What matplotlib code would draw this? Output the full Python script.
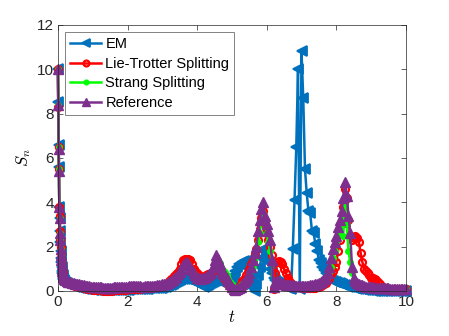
import numpy as np
import matplotlib
matplotlib.use('Agg')
import matplotlib.pyplot as plt

# sampling times: fine steps for the initial drop, then every 0.05
t = np.round(np.concatenate([np.arange(0, 0.2, 0.01), np.arange(0.2, 10.001, 0.05)]), 3)

# S_n, one row per unit of time
s_em = [10.0, 8.5, 6.6, 5.6, 3.8, 3.3, 2.7, 2.2, 1.8, 1.5, 1.3, 1.1, 0.9, 0.8, 0.7, 0.6, 0.54, 0.48, 0.44, 0.42,
        0.4, 0.36, 0.32, 0.28, 0.25, 0.22, 0.2, 0.18, 0.15, 0.14, 0.12, 0.11, 0.1, 0.09, 0.08, 0.07,
        0.06, 0.06, 0.05, 0.05, 0.05, 0.04, 0.04, 0.04, 0.04, 0.04, 0.04, 0.04, 0.04, 0.04, 0.05, 0.05, 0.05, 0.05, 0.06, 0.06,
        0.06, 0.06, 0.07, 0.07, 0.07, 0.08, 0.08, 0.08, 0.09, 0.1, 0.1, 0.11, 0.11, 0.12, 0.12, 0.13, 0.13, 0.14, 0.14, 0.15,
        0.15, 0.17, 0.19, 0.22, 0.25, 0.28, 0.3, 0.35, 0.4, 0.45, 0.5, 0.53, 0.55, 0.55, 0.55, 0.52, 0.5, 0.47, 0.45, 0.4,
        0.35, 0.3, 0.25, 0.22, 0.2, 0.22, 0.25, 0.3, 0.35, 0.4, 0.45, 0.48, 0.5, 0.45, 0.4, 0.35, 0.3, 0.3, 0.35, 0.4,
        0.5, 0.7, 0.9, 1.1, 1.2, 1.2, 1.3, 1.35, 1.3, 1.4, 1.0, 0.5, 0.15, 0.0, 0.3, 0.7, 1.1, 1.5, 1.9, 1.8,
        1.6, 1.3, 1.0, 0.8, 0.6, 0.5, 0.4, 0.35, 0.3, 0.25, 0.22, 0.18, 0.15, 0.12, 0.1, 1.9, 4.1, 6.5, 10.0, 0.1,
        10.8, 8.7, 5.5, 4.4, 3.6, 3.5, 2.7, 2.6, 2.1, 1.8, 1.4, 1.25, 1.1, 0.95, 0.8, 0.7, 0.6, 0.52, 0.45, 0.42,
        0.4, 0.37, 0.34, 0.3, 0.27, 0.25, 0.22, 0.2, 0.18, 0.16, 0.14, 0.12, 0.11, 0.1, 0.08, 0.07, 0.06, 0.05, 0.04, 0.03,
        0.03, 0.02, 0.02, 0.02, 0.01, 0.01, 0.01, 0.01, 0.0, 0.0, 0.0, 0.0, 0.0, 0.0, 0.0, 0.0, 0.0, 0.0, 0.0, 0.0,
        0.0]

s_lt = [10.0, 8.3, 6.5, 5.5, 3.8, 3.4, 2.7, 2.3, 2.0, 1.7, 1.5, 1.2, 1.0, 0.9, 0.8, 0.7, 0.62, 0.56, 0.5, 0.47,
        0.45, 0.4, 0.36, 0.32, 0.3, 0.27, 0.24, 0.22, 0.2, 0.18, 0.16, 0.14, 0.12, 0.1, 0.08, 0.07,
        0.06, 0.05, 0.04, 0.04, 0.03, 0.03, 0.02, 0.02, 0.02, 0.02, 0.02, 0.02, 0.03, 0.03, 0.03, 0.04, 0.04, 0.05, 0.05, 0.06,
        0.07, 0.08, 0.09, 0.1, 0.11, 0.1, 0.1, 0.11, 0.12, 0.12, 0.13, 0.14, 0.15, 0.15, 0.16, 0.17, 0.18, 0.19, 0.2, 0.22,
        0.25, 0.27, 0.3, 0.37, 0.45, 0.52, 0.6, 0.67, 0.75, 0.87, 1.0, 1.2, 1.4, 1.45, 1.4, 1.45, 1.4, 1.2, 1.0, 0.9,
        0.8, 0.72, 0.65, 0.63, 0.65, 0.7, 0.75, 0.78, 0.8, 0.85, 0.9, 0.95, 1.0, 0.9, 0.8, 0.65, 0.5, 0.4, 0.3, 0.2,
        0.1, 0.07, 0.05, 0.1, 0.2, 0.3, 0.45, 0.55, 0.7, 0.85, 1.0, 1.2, 1.4, 1.65, 1.9, 2.3, 2.8, 3.3, 3.6, 3.0,
        2.6, 2.3, 2.0, 1.6, 0.1, 0.8, 1.3, 1.35, 1.3, 1.2, 1.0, 0.8, 0.6, 0.45, 0.35, 0.28, 0.22, 0.2, 0.18, 0.17,
        0.16, 0.15, 0.14, 0.13, 0.12, 0.12, 0.12, 0.13, 0.14, 0.16, 0.18, 0.21, 0.25, 0.3, 0.38, 0.5, 0.6, 0.75, 0.9, 1.1,
        1.3, 1.8, 2.3, 3.0, 3.8, 4.6, 4.2, 3.2, 2.5, 2.3, 2.4, 2.5, 2.4, 2.2, 1.7, 1.3, 1.0, 0.9, 0.8, 0.7,
        0.6, 0.57, 0.55, 0.5, 0.4, 0.3, 0.2, 0.15, 0.12, 0.11, 0.1, 0.1, 0.09, 0.09, 0.09, 0.08, 0.08, 0.08, 0.08, 0.08,
        0.08]

s_st = [10.0, 8.4, 6.5, 5.5, 3.7, 3.3, 2.6, 2.3, 1.9, 1.6, 1.4, 1.2, 1.0, 0.9, 0.8, 0.7, 0.64, 0.58, 0.54, 0.51,
        0.48, 0.44, 0.41, 0.38, 0.36, 0.34, 0.32, 0.3, 0.29, 0.27, 0.26, 0.24, 0.23, 0.21, 0.2, 0.19,
        0.18, 0.17, 0.16, 0.16, 0.15, 0.15, 0.14, 0.14, 0.14, 0.14, 0.14, 0.14, 0.15, 0.15, 0.15, 0.16, 0.16, 0.17, 0.17, 0.18,
        0.19, 0.2, 0.21, 0.22, 0.23, 0.22, 0.21, 0.2, 0.2, 0.19, 0.2, 0.21, 0.22, 0.21, 0.21, 0.22, 0.23, 0.24, 0.25, 0.27,
        0.29, 0.3, 0.32, 0.35, 0.39, 0.43, 0.48, 0.55, 0.63, 0.72, 0.8, 0.95, 1.1, 1.2, 1.25, 1.15, 1.0, 0.9, 0.75, 0.68,
        0.6, 0.56, 0.55, 0.57, 0.6, 0.64, 0.68, 0.72, 0.8, 1.0, 1.2, 1.4, 1.38, 1.25, 1.1, 0.95, 0.85, 0.7, 0.55, 0.4,
        0.3, 0.15, 0.1, 0.12, 0.18, 0.25, 0.33, 0.4, 0.45, 0.6, 0.8, 0.95, 1.1, 1.5, 1.9, 2.2, 2.6, 3.2, 3.5, 3.0,
        2.6, 2.2, 1.8, 1.3, 0.2, 0.35, 0.4, 0.35, 0.3, 0.28, 0.28, 0.26, 0.25, 0.24, 0.23, 0.22, 0.22, 0.21, 0.21, 0.21,
        0.21, 0.21, 0.21, 0.22, 0.23, 0.24, 0.25, 0.27, 0.29, 0.31, 0.33, 0.37, 0.42, 0.48, 0.55, 0.68, 0.85, 1.1, 1.5, 1.8,
        2.2, 2.6, 2.9, 3.3, 2.5, 3.9, 3.0, 1.8, 1.3, 0.8, 0.5, 0.35, 0.28, 0.24, 0.21, 0.19, 0.17, 0.16, 0.15, 0.14,
        0.13, 0.13, 0.12, 0.12, 0.11, 0.11, 0.1, 0.1, 0.1, 0.09, 0.09, 0.09, 0.09, 0.08, 0.08, 0.08, 0.08, 0.08, 0.08, 0.08,
        0.08]

s_ref = [10.0, 8.4, 6.4, 5.4, 3.8, 3.3, 2.6, 2.3, 1.9, 1.6, 1.4, 1.2, 1.0, 0.9, 0.8, 0.7, 0.65, 0.6, 0.55, 0.52,
         0.5, 0.46, 0.42, 0.4, 0.38, 0.36, 0.33, 0.32, 0.3, 0.29, 0.27, 0.26, 0.24, 0.22, 0.21, 0.2,
         0.19, 0.18, 0.17, 0.17, 0.16, 0.16, 0.15, 0.15, 0.15, 0.15, 0.15, 0.15, 0.16, 0.16, 0.16, 0.17, 0.17, 0.18, 0.18, 0.19,
         0.2, 0.21, 0.22, 0.23, 0.24, 0.23, 0.22, 0.21, 0.2, 0.2, 0.21, 0.22, 0.23, 0.22, 0.22, 0.23, 0.24, 0.25, 0.26, 0.28,
         0.3, 0.31, 0.33, 0.36, 0.4, 0.45, 0.5, 0.57, 0.65, 0.75, 0.85, 1.0, 1.15, 1.25, 1.3, 1.2, 1.05, 0.95, 0.8, 0.7,
         0.6, 0.57, 0.55, 0.57, 0.6, 0.65, 0.7, 0.75, 0.8, 1.1, 1.4, 1.6, 1.45, 1.2, 0.95, 0.8, 0.7, 0.6, 0.45, 0.3,
         0.2, 0.1, 0.05, 0.1, 0.15, 0.2, 0.3, 0.4, 0.5, 0.65, 0.8, 1.1, 1.4, 1.7, 2.0, 2.7, 3.2, 3.7, 4.0, 3.4,
         3.0, 2.7, 2.3, 1.4, 0.2, 0.4, 0.45, 0.4, 0.35, 0.32, 0.3, 0.28, 0.27, 0.26, 0.25, 0.25, 0.24, 0.24, 0.23, 0.23,
         0.22, 0.22, 0.22, 0.23, 0.24, 0.25, 0.27, 0.28, 0.3, 0.32, 0.35, 0.4, 0.45, 0.52, 0.6, 0.8, 1.1, 1.5, 1.9, 2.2,
         2.5, 2.9, 3.2, 3.6, 4.2, 4.9, 4.3, 3.4, 2.6, 1.1, 0.6, 0.45, 0.38, 0.32, 0.28, 0.25, 0.22, 0.2, 0.19, 0.18,
         0.17, 0.16, 0.15, 0.15, 0.14, 0.14, 0.13, 0.13, 0.12, 0.12, 0.12, 0.11, 0.11, 0.11, 0.11, 0.1, 0.1, 0.1, 0.1, 0.1,
         0.1]

plt.rcParams['font.family'] = ['Liberation Sans', 'DejaVu Sans']
plt.rcParams['mathtext.fontset'] = 'cm'

fig = plt.figure(figsize=(4.49, 3.36), dpi=100)
ax = fig.add_axes([0.129, 0.134, 0.775, 0.792])

ax.plot(t, s_em, '-<', color=(0, 0.447, 0.741), lw=1.8, ms=7, mew=1.3, clip_on=False, label='EM')
ax.plot(t, s_lt, '-o', color='red', mfc='none', mew=1.6, lw=1.8, ms=5, clip_on=False,
        label='Lie-Trotter Splitting')
ax.plot(t, s_st, '-o', color=(0, 1, 0), lw=1.8, ms=4, clip_on=False, label='Strang Splitting')
ax.plot(t, s_ref, '-^', color=(0.494, 0.184, 0.556), lw=1.8, ms=7.5, clip_on=False, label='Reference')

ax.set_xlim(0, 10)
ax.set_ylim(0, 12)
ax.set_xticks(np.arange(0, 11, 2))
ax.set_yticks(np.arange(0, 13, 2))
ax.tick_params(direction='in', top=True, right=True, length=3.5, width=0.5, labelsize=11,
               colors='0.15', pad=3)
for sp in ax.spines.values():
    sp.set_linewidth(0.5)
    sp.set_color('0.15')

ax.set_xlabel('$t$', fontsize=12, labelpad=0)
ax.set_ylabel('$S_n$', fontsize=12, labelpad=3)

leg = ax.legend(loc='upper left', fontsize=10.5, frameon=True, fancybox=False, edgecolor='0.15',
                handlelength=2.1, handletextpad=0.3, borderpad=0.35, labelspacing=0.38,
                borderaxespad=0.5, markerscale=0.85)
leg.get_frame().set_linewidth(0.5)

fig.savefig('out.png', dpi=100)
